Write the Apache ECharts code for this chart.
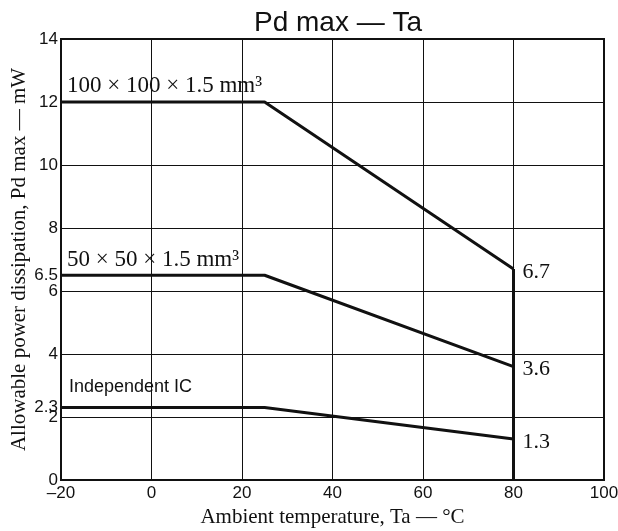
<!DOCTYPE html>
<html>
<head>
<meta charset="utf-8">
<script src="https://cdn.jsdelivr.net/npm/echarts@6/dist/echarts.min.js"></script>
<style>
  html, body { margin: 0; padding: 0; background: #fff; }
  #chart { width: 618px; height: 531px; }
</style>
</head>
<body>
<div id="chart"></div>
<script>
// curve data
const board100 = [[-20, 12], [25, 12], [80, 6.7]];
const board50 = [[-20, 6.5], [25, 6.5], [80, 3.6]];
const bareIC = [[-20, 2.3], [25, 2.3], [80, 1.3]];
const cutoff = [[80, 6.7], [80, 0]];

const curveNames = ['100 × 100 × 1.5 mm³', '50 × 50 × 1.5 mm³', 'Independent IC'];
const yTickValues = [0, 2, 2.3, 4, 6, 6.5, 8, 10, 12, 14];
const xTickValues = [-20, 0, 20, 40, 60, 80, 100];

const chart = echarts.init(document.getElementById('chart'));

const serif = '"Liberation Serif", "DejaVu Serif", serif';
const sans = '"Liberation Sans", Arial, sans-serif';

function curve(points, name, nameFont) {
  const isSans = nameFont === 'sans';
  const data = points.map((p, i) => {
    const item = { value: p };
    if (i === 0) {
      item.label = {
        show: true,
        position: 'top',
        align: 'left',
        offset: isSans ? [8, -6] : [6, 1],
        formatter: name,
        color: '#111',
        fontFamily: isSans ? sans : serif,
        fontSize: isSans ? 18 : 23,
      };
    }
    if (i === points.length - 1) {
      item.label = {
        show: true,
        position: 'right',
        offset: [4, 3],
        formatter: String(p[1]),
        color: '#111',
        fontFamily: serif,
        fontSize: 22,
      };
    }
    return item;
  });
  return {
    type: 'line',
    data: data,
    symbol: 'circle',
    showSymbol: true,
    symbolSize: 0.1,
    itemStyle: { color: '#111' },
    lineStyle: { color: '#111', width: 3 },
    silent: true,
    z: 5,
  };
}

chart.setOption({
  animation: false,
  title: {
    text: 'Pd max — Ta',
    left: 333,
    textAlign: 'center',
    top: 4,
    textStyle: { fontFamily: sans, fontSize: 28, fontWeight: 'normal', color: '#111' },
  },
  grid: { left: 61, right: 14, top: 39, bottom: 51, containLabel: false, outerBoundsMode: 'none' },
  xAxis: {
    type: 'value',
    min: -20,
    max: 100,
    interval: 20,
    name: 'Ambient temperature, Ta — °C',
    nameLocation: 'middle',
    nameGap: 27,
    nameMoveOverlap: false,
    nameTextStyle: { fontFamily: serif, fontSize: 21, color: '#111' },
    axisLine: { show: true, onZero: false, lineStyle: { color: '#111', width: 2 } },
    axisTick: { show: false },
    axisLabel: {
      color: '#111',
      fontFamily: sans,
      fontSize: 17,
      margin: 5,
      formatter: (v) => (xTickValues.includes(v) ? String(v).replace('-', '–') : ''),
    },
    splitLine: { show: true, lineStyle: { color: '#111', width: 1 } },
  },
  yAxis: {
    type: 'value',
    min: 0,
    max: 14,
    interval: 2,
    name: 'Allowable power dissipation, Pd max — mW',
    nameLocation: 'middle',
    nameGap: 31,
    nameMoveOverlap: false,
    nameTextStyle: { fontFamily: serif, fontSize: 21, color: '#111' },
    axisLine: { show: true, onZero: false, lineStyle: { color: '#111', width: 2 } },
    axisTick: { show: false },
    axisLabel: {
      customValues: yTickValues,
      color: '#111',
      fontFamily: sans,
      fontSize: 17,
      margin: 3,
    },
    splitLine: { show: true, lineStyle: { color: '#111', width: 1 } },
  },
  series: [
    curve(board100, curveNames[0], 'serif'),
    curve(board50, curveNames[1], 'serif'),
    curve(bareIC, curveNames[2], 'sans'),
    {
      type: 'line',
      data: cutoff,
      symbol: 'none',
      lineStyle: { color: '#111', width: 3 },
      silent: true,
      z: 5,
    },
  ],
});

// close the frame at the top and right
const topRight = chart.convertToPixel({ gridIndex: 0 }, [100, 14]);
const bottomLeft = chart.convertToPixel({ gridIndex: 0 }, [-20, 0]);
chart.setOption({
  graphic: [{
    type: 'rect',
    shape: {
      x: bottomLeft[0],
      y: topRight[1],
      width: topRight[0] - bottomLeft[0],
      height: bottomLeft[1] - topRight[1],
    },
    style: { fill: 'none', stroke: '#111', lineWidth: 2 },
    silent: true,
    z: 10,
  }],
});

window.addEventListener('resize', () => chart.resize());
</script>
</body>
</html>
